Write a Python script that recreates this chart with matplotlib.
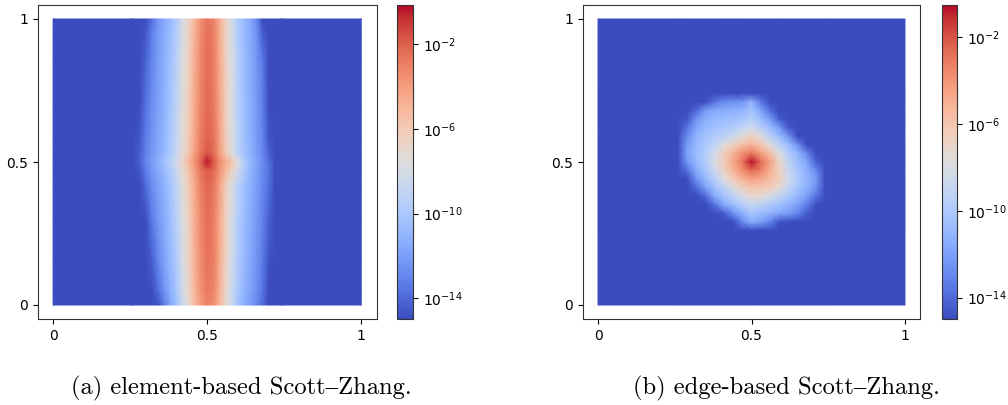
#!/usr/bin/env python3
"""Two log-scale error fields for Scott-Zhang interpolants, side by side."""

import matplotlib

matplotlib.use("Agg")
import matplotlib.pyplot as plt
import numpy as np
from matplotlib.colors import LogNorm

FIG_W, FIG_H = 1008, 405

TICKS = [0, 0.5, 1]
TICK_LABELS = ["0", "0.5", "1"]
CBAR_TICKS = [1e-2, 1e-6, 1e-10, 1e-14]
BACKGROUND = -15.0

CAPTION_A = "(a) element-based Scott–Zhang."
CAPTION_B = "(b) edge-based Scott–Zhang."

# log10 of the field
X_A = [0, 0.26, 0.28, 0.30, 0.32, 0.34, 0.36, 0.38, 0.40, 0.42, 0.44, 0.46, 0.48, 0.50,
       0.52, 0.54, 0.56, 0.58, 0.60, 0.62, 0.64, 0.66, 0.68, 0.70, 0.72, 0.74, 1]
Y_A = [1.0, 0.95, 0.85, 0.7, 0.58, 0.53, 0.5, 0.47, 0.42, 0.3, 0.15, 0.05, 0.0]
LOG_A = [
    [-15, -15, -13.8, -12.4, -11.6, -10.8, -9.8, -8.0, -6.6, -5.0, -3.5, -2.7, -3.0, -4.6, -6.6, -8.2, -9.8, -10.8, -11.6, -12.8, -15, -15, -15],
    [-15, -14.6, -13.2, -12.2, -11.5, -10.6, -9.6, -7.8, -6.5, -4.8, -3.3, -2.5, -2.9, -4.5, -6.5, -8.0, -9.6, -10.7, -11.5, -12.5, -14.4, -15, -15],
    [-15, -14.2, -13.0, -12.1, -11.3, -10.4, -9.4, -7.6, -6.4, -4.6, -3.1, -2.4, -2.8, -4.4, -6.4, -7.9, -9.5, -10.6, -11.4, -12.3, -13.4, -15, -15],
    [-15, -13.7, -12.7, -11.9, -11.2, -10.2, -9.1, -7.4, -6.2, -4.4, -3.0, -2.3, -2.7, -4.2, -6.3, -7.8, -9.4, -10.5, -11.3, -12.2, -13.2, -15, -15],
    [-14.6, -13.3, -12.4, -11.7, -11.0, -10.0, -8.9, -7.2, -6.0, -4.2, -2.8, -2.1, -2.5, -4.1, -6.2, -7.7, -9.3, -10.4, -11.2, -12.1, -13.0, -14.6, -15],
    [-14.4, -13.2, -12.3, -11.6, -10.9, -9.9, -8.8, -7.1, -5.8, -4.0, -2.6, -1.7, -2.3, -3.9, -6.0, -7.6, -9.2, -10.3, -11.1, -12.0, -12.9, -14.2, -15],
    [-14.2, -13.0, -12.1, -11.2, -10.4, -9.4, -8.2, -6.6, -5.0, -3.6, -2.0, -0.3, -1.8, -3.4, -4.4, -5.8, -7.6, -9.6, -10.8, -11.8, -12.8, -13.8, -15],
    [-14.6, -13.3, -12.3, -11.5, -10.8, -9.8, -8.7, -7.0, -5.8, -4.0, -2.6, -1.9, -2.2, -3.6, -5.2, -6.6, -8.2, -9.8, -11.0, -11.9, -12.8, -13.6, -15],
    [-15, -13.9, -12.7, -11.9, -11.2, -10.2, -9.1, -7.4, -6.1, -4.4, -2.9, -2.2, -2.6, -4.1, -6.2, -7.7, -9.4, -10.4, -11.2, -12.0, -12.9, -13.8, -15],
    [-15, -15, -13.4, -12.3, -11.5, -10.5, -9.4, -7.7, -6.4, -4.6, -3.2, -2.5, -2.8, -4.4, -6.4, -8.0, -9.6, -10.6, -11.4, -12.2, -13.1, -14.2, -15],
    [-15, -15, -14.4, -13.0, -11.9, -10.9, -9.8, -8.0, -6.6, -4.7, -3.3, -2.6, -2.9, -4.5, -6.6, -8.2, -9.8, -10.8, -11.6, -12.4, -13.4, -14.8, -15],
    [-15, -15, -15, -13.8, -12.5, -11.3, -10.1, -8.2, -6.8, -4.9, -3.5, -2.8, -3.1, -4.7, -6.8, -8.4, -10.0, -11.0, -11.8, -12.6, -13.6, -15, -15],
    [-15, -15, -15, -14.8, -13.4, -11.8, -10.5, -8.6, -7.1, -5.2, -3.8, -3.1, -3.4, -5.0, -7.1, -8.7, -10.3, -11.3, -12.0, -12.9, -14.0, -15, -15],
]

X_B = [0, 0.26, 0.29, 0.32, 0.35, 0.38, 0.41, 0.44, 0.47, 0.50, 0.53, 0.56, 0.59,
       0.62, 0.65, 0.68, 0.71, 0.74, 1]
Y_B = [1, 0.74, 0.71, 0.68, 0.65, 0.62, 0.59, 0.56, 0.53, 0.50, 0.47, 0.44, 0.41,
       0.38, 0.35, 0.32, 0.29, 0.26, 0]
LOG_B = [
    [-15, -15, -15, -15, -15, -15, -15, -15, -15, -15, -15, -15, -15, -15, -15, -15, -15],
    [-15, -15, -15, -15, -13.6, -12.8, -12.6, -12.4, -11.2, -13.4, -15, -15, -15, -15, -15, -15, -15],
    [-15, -15, -14.0, -12.2, -11.6, -11.4, -11.3, -11.1, -10.4, -11.8, -13.8, -15, -15, -15, -15, -15, -15],
    [-15, -14.6, -12.6, -11.4, -11.0, -10.8, -10.7, -10.4, -9.6, -10.8, -12.2, -14.4, -15, -15, -15, -15, -15],
    [-15, -13.6, -11.8, -11.0, -10.5, -10.2, -9.8, -9.2, -8.4, -9.5, -10.8, -12.2, -14.6, -15, -15, -15, -15],
    [-15, -12.8, -11.2, -10.4, -9.9, -9.4, -8.6, -7.6, -6.8, -7.6, -9.5, -10.7, -12.4, -15, -15, -15, -15],
    [-15, -12.2, -10.9, -10.0, -9.2, -7.8, -6.7, -5.8, -5.1, -6.1, -7.6, -9.4, -10.7, -12.6, -15, -15, -15],
    [-15, -11.9, -10.8, -9.8, -8.4, -6.6, -5.2, -3.8, -3.0, -4.2, -5.8, -7.8, -9.8, -11.0, -13.0, -15, -15],
    [-15, -12.4, -11.0, -9.8, -8.0, -6.3, -4.8, -3.0, -0.7, -2.7, -4.4, -7.0, -9.2, -10.6, -11.8, -14.2, -15],
    [-15, -13.8, -11.5, -10.2, -8.8, -6.8, -5.2, -3.8, -2.7, -3.3, -5.0, -6.6, -8.8, -10.2, -11.4, -12.8, -15],
    [-15, -15, -12.6, -10.9, -9.6, -7.8, -6.4, -5.2, -4.4, -4.8, -5.6, -6.5, -8.4, -9.9, -11.1, -12.2, -15],
    [-15, -15, -14.0, -12.0, -10.5, -9.4, -7.9, -6.7, -6.0, -6.1, -6.4, -7.2, -9.0, -10.3, -11.3, -12.6, -15],
    [-15, -15, -15, -14.0, -11.5, -10.4, -9.4, -8.2, -7.2, -7.4, -8.2, -9.2, -10.1, -11.0, -12.0, -13.6, -15],
    [-15, -15, -15, -15, -13.8, -11.6, -10.7, -9.7, -9.0, -9.4, -10.0, -10.5, -11.2, -12.0, -13.2, -15, -15],
    [-15, -15, -15, -15, -15, -14.6, -12.6, -11.4, -10.2, -10.8, -11.2, -11.7, -12.2, -13.0, -14.4, -15, -15],
    [-15, -15, -15, -15, -15, -15, -15, -13.0, -11.4, -12.0, -13.0, -14.8, -15, -15, -15, -15, -15],
    [-15, -15, -15, -15, -15, -15, -15, -15, -15, -15, -15, -15, -15, -15, -15, -15, -15],
]


def px_axes(fig, left, right, top, bottom):
    """Axes from pixel edges, measured from the top left of the image."""
    return fig.add_axes([left / FIG_W, 1 - bottom / FIG_H, (right - left) / FIG_W, (bottom - top) / FIG_H])


def draw_panel(fig, xs, ys, log_values, pad, vmax, box, cbar_box):
    # the far edges of the domain are flat background
    grid = np.pad(np.array(log_values, dtype=float), pad, constant_values=BACKGROUND)

    ax = px_axes(fig, *box)
    norm = LogNorm(vmin=1e-15, vmax=vmax)
    mesh = ax.pcolormesh(xs, ys, 10.0**grid, shading="gouraud", cmap="coolwarm", norm=norm, rasterized=True)
    ax.set_xlim(-0.05, 1.05)
    ax.set_ylim(-0.05, 1.05)
    ax.set_xticks(TICKS, TICK_LABELS)
    ax.set_yticks(TICKS, TICK_LABELS)
    for spine in ax.spines.values():
        spine.set_edgecolor("#333333")

    cax = px_axes(fig, *cbar_box)
    cbar = fig.colorbar(mesh, cax=cax)
    cbar.set_ticks(CBAR_TICKS)
    cbar.ax.minorticks_off()
    cbar.outline.set_edgecolor("#333333")


def main():
    fig = plt.figure(figsize=(FIG_W / 100, FIG_H / 100), dpi=100)

    draw_panel(fig, X_A, Y_A, LOG_A, ((0, 0), (2, 2)), 10**-0.12, (37.7, 376.7, 4.7, 319.3), (397.3, 413.0, 4.7, 319.3))
    draw_panel(fig, X_B, Y_B, LOG_B, 1, 10**-0.5, (582.7, 920.3, 4.7, 319.3), (941.7, 957.3, 4.7, 319.3))

    caption_font = ["cmr10", "Liberation Serif"]
    fig.text(241.5 / FIG_W, 1 - 388 / FIG_H, CAPTION_A, family=caption_font, fontsize=17.7, ha="center", va="center")
    fig.text(786 / FIG_W, 1 - 388 / FIG_H, CAPTION_B, family=caption_font, fontsize=17.7, ha="center", va="center")

    fig.savefig("out.png", dpi=100)


if __name__ == "__main__":
    main()
